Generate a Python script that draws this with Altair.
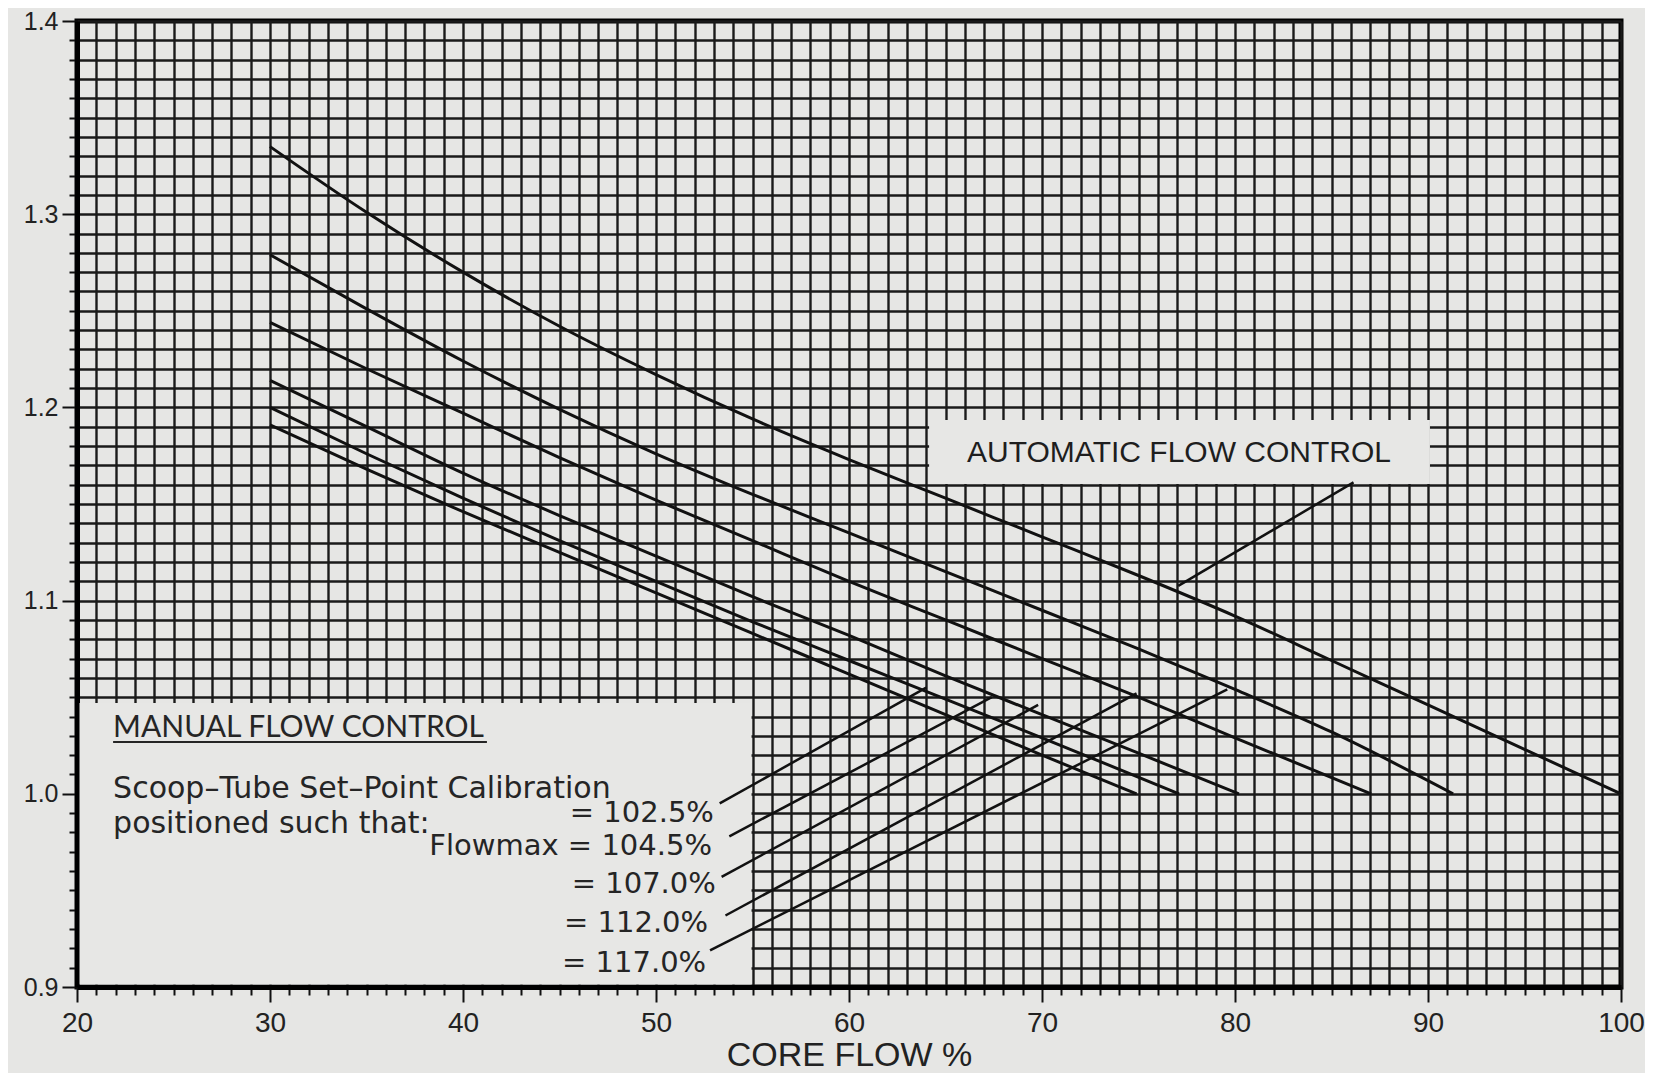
import altair as alt
import pandas as pd

# ---------------- data ----------------
auto_x = [30, 35, 40, 45, 50, 55, 60, 65, 70, 75, 80, 85, 90, 95, 100]
auto_y = [1.335, 1.301, 1.270, 1.242, 1.217, 1.194, 1.173, 1.153, 1.133, 1.113, 1.092, 1.069, 1.046, 1.023, 1.000]

m117_x = [30, 35, 40, 45, 50, 55, 60, 65, 70, 75, 80, 85, 91.3]
m117_y = [1.279, 1.251, 1.224, 1.199, 1.176, 1.155, 1.135, 1.115, 1.095, 1.075, 1.054, 1.032, 1.000]

m112_x = [30, 35, 40, 45, 50, 55, 60, 65, 70, 75, 80, 87.05]
m112_y = [1.244, 1.220, 1.197, 1.174, 1.152, 1.131, 1.110, 1.090, 1.070, 1.050, 1.029, 1.000]

m107_x = [30, 35, 40, 45, 50, 55, 60, 65, 70, 75, 80.2]
m107_y = [1.214, 1.190, 1.166, 1.144, 1.123, 1.102, 1.082, 1.061, 1.041, 1.021, 1.000]

m1045_x = [30, 35, 40, 45, 50, 55, 60, 65, 70, 77.1]
m1045_y = [1.200, 1.176, 1.153, 1.131, 1.110, 1.089, 1.069, 1.049, 1.029, 1.000]

m1025_x = [30, 35, 40, 45, 50, 55, 60, 65, 70, 74.9]
m1025_y = [1.191, 1.168, 1.146, 1.125, 1.104, 1.083, 1.062, 1.041, 1.020, 1.000]

# leader lines from labels to curves
lead_names = ["102.5", "104.5", "107.0", "112.0", "117.0", "auto"]
lead_x0 = [53.3, 53.8, 53.4, 53.6, 52.8, 77.06]
lead_y0 = [0.995, 0.978, 0.957, 0.937, 0.919, 1.1076]
lead_x1 = [64.0, 67.4, 69.8, 74.9, 79.6, 86.14]
lead_y1 = [1.055, 1.050, 1.046, 1.052, 1.054, 1.1612]

# annotation boxes
box_x0 = [20.13, 64.15]
box_x1 = [54.95, 90.1]
box_y0 = [0.9013, 1.1604]
box_y1 = [1.047, 1.1935]

# texts in manual box
head_text = ["MANUAL FLOW CONTROL"]
head_x = [21.87]
head_y = [1.0294]

left_text = ["Scoop\u2013Tube Set\u2013Point Calibration", "positioned such that:"]
left_x = [21.87, 21.87]
left_y = [0.9976, 0.9797]

# Flowmax labels (right aligned)
fm_text = ["= 102.5%", "Flowmax = 104.5%", "= 107.0%", "= 112.0%", "= 117.0%"]
fm_x = [53.0, 52.9, 53.1, 52.7, 52.6]
fm_y = [0.9852, 0.9683, 0.9487, 0.9285, 0.9080]

auto_text = ["AUTOMATIC FLOW CONTROL"]
auto_tx = [77.1]
auto_ty = [1.1765]

underline_x0 = [21.87]
underline_x1 = [41.24]
underline_y = [1.0268]

x_ticks = list(range(20, 101))
y_ticks = [round(0.90 + i / 100, 2) for i in range(51)]

# ---------------- build tables ----------------
curves = []
for name, xs, ys in [("auto", auto_x, auto_y), ("117", m117_x, m117_y), ("112", m112_x, m112_y),
                     ("107", m107_x, m107_y), ("104.5", m1045_x, m1045_y), ("102.5", m1025_x, m1025_y)]:
    for xv, yv in zip(xs, ys):
        curves.append({"x": xv, "y": yv, "s": name})
curves = pd.DataFrame(curves)

leads = []
for n, a, b, c, d in zip(lead_names, lead_x0, lead_y0, lead_x1, lead_y1):
    leads.append({"x": a, "y": b, "s": n})
    leads.append({"x": c, "y": d, "s": n})
leads = pd.DataFrame(leads)

boxes = pd.DataFrame({"x": box_x0, "x2": box_x1, "y": box_y0, "y2": box_y1})
htext = pd.DataFrame({"x": head_x, "y": head_y, "t": head_text})
ltext = pd.DataFrame({"x": left_x, "y": left_y, "t": left_text})
ftext = pd.DataFrame({"x": fm_x, "y": fm_y, "t": fm_text})
atext = pd.DataFrame({"x": auto_tx, "y": auto_ty, "t": auto_text})
uline = pd.DataFrame({"x": underline_x0, "x2": underline_x1, "y": underline_y})

sans = "Liberation Sans, Arial, sans-serif"

xscale = alt.Scale(domain=[20, 100], nice=False, zero=False)
yscale = alt.Scale(domain=[0.9, 1.4], nice=False, zero=False)

xaxis = alt.Axis(
    values=x_ticks,
    labelExpr="datum.value % 10 == 0 ? datum.label : ''",
    tickSize={"condition": {"test": "datum.value % 10 == 0", "value": 15}, "value": 8},
    labelOverlap=False, labelFlush=False, labelBound=False,
    labelFont=sans, labelFontSize=28, labelColor="#222", labelPadding=7,
    title="CORE FLOW %", titleFont=sans, titleFontSize=34, titleFontWeight="normal",
    titleColor="#222", titleY=78, titleBaseline="alphabetic",
)
yaxis = alt.Axis(
    values=y_ticks,
    labelExpr="abs(datum.value*10 - round(datum.value*10)) < 0.001 ? format(datum.value, '.1f') : ''",
    tickSize={"condition": {"test": "abs(datum.value*10 - round(datum.value*10)) < 0.001", "value": 15}, "value": 8},
    labelOverlap=False, labelFlush=False, labelBound=False,
    labelFont=sans, labelFontSize=25, labelColor="#222", labelPadding=4,
    title=None,
)

X = alt.X("x:Q", scale=xscale, axis=xaxis)
Y = alt.Y("y:Q", scale=yscale, axis=yaxis)

box_layer = alt.Chart(boxes).mark_rect(fill="#e7e7e5", strokeWidth=0).encode(
    x=X, x2="x2:Q", y=Y, y2="y2:Q")

curve_layer = alt.Chart(curves).mark_line(color="#111", strokeWidth=3, interpolate="monotone").encode(
    x=X, y=Y, detail="s:N")

lead_layer = alt.Chart(leads).mark_line(color="#111", strokeWidth=2.5).encode(
    x=X, y=Y, detail="s:N")

htext_layer = alt.Chart(htext).mark_text(
    align="left", baseline="alphabetic", font="Lato", fontSize=30, color="#252525").encode(
    x=X, y=Y, text="t:N")

ltext_layer = alt.Chart(ltext).mark_text(
    align="left", baseline="alphabetic", font="DejaVu Sans", fontSize=30, color="#252525").encode(
    x=X, y=Y, text="t:N")

ftext_layer = alt.Chart(ftext).mark_text(
    align="right", baseline="alphabetic", font="DejaVu Sans", fontSize=29, color="#252525").encode(
    x=X, y=Y, text="t:N")

atext_layer = alt.Chart(atext).mark_text(
    align="center", baseline="middle", font=sans, fontSize=30, color="#1e1e1e").encode(
    x=X, y=Y, text="t:N")

uline_layer = alt.Chart(uline).mark_rule(color="#252525", strokeWidth=2).encode(
    x=X, x2="x2:Q", y=Y)

chart = alt.layer(
    box_layer, curve_layer, lead_layer, htext_layer, ltext_layer, ftext_layer, atext_layer, uline_layer
).properties(
    width=1544, height=966,
    autosize=alt.AutoSizeParams(type="none"),
    padding={"left": 69, "top": 13, "right": 24, "bottom": 86},
    background="#e6e6e4",
).configure_view(
    stroke="#000", strokeWidth=5, fill="#e6e6e4",
).configure_axis(
    domain=True, domainColor="#000", domainWidth=5,
    grid=True, gridColor="#1a1a1a", gridWidth=2.4, gridOpacity=1,
    ticks=True, tickColor="#111", tickWidth=2,
)

chart.save("out.html", embed_options={"renderer": "svg", "actions": False})
